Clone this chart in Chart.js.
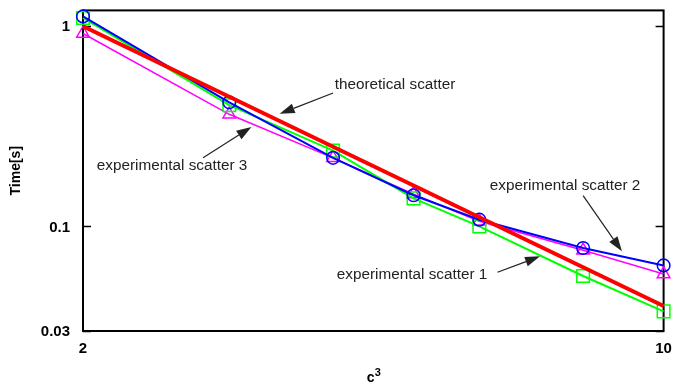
<!DOCTYPE html>
<html>
<head>
<meta charset="utf-8">
<script src="https://cdn.jsdelivr.net/npm/chart.js@4/dist/chart.umd.min.js"></script>
<style>
  html, body { margin: 0; padding: 0; background: #fff; }
  canvas { display: block; }
</style>
</head>
<body>
<canvas id="chart" width="674" height="384"></canvas>
<script>
// Problem size c^3 on the x axis, run time in seconds on the y axis (both log)
const cValues       = [2, 3, 4, 5, 6, 8, 10];
const theoretical   = [1.0, 0.444, 0.25, 0.16, 0.111, 0.0625, 0.04];
const experimental1 = [1.10, 0.403, 0.239, 0.138, 0.100, 0.0565, 0.0376];
const experimental2 = [1.12, 0.417, 0.220, 0.143, 0.108, 0.078, 0.0638];
const experimental3 = [0.92, 0.363, 0.220, 0.145, 0.106, 0.0759, 0.0578];
const xTicks = [2, 10];
const yTicks = [0.03, 0.1, 1];

// Callout labels: text centre and arrow (tail -> head), all in data units
const callouts = [
  { text: 'theoretical scatter',     tx: 4.75, ty: 0.508, fx: 4.00, fy: 0.464, hx: 3.45, hy: 0.365 },
  { text: 'experimental scatter 3',  tx: 2.56, ty: 0.201, fx: 2.79, fy: 0.220, hx: 3.19, hy: 0.314 },
  { text: 'experimental scatter 2',  tx: 7.61, ty: 0.160, fx: 8.00, fy: 0.1425, hx: 8.91, hy: 0.075 },
  { text: 'experimental scatter 1',  tx: 4.98, ty: 0.057, fx: 6.31, fy: 0.059, hx: 7.10, hy: 0.0708 }
];

const pts = ys => cValues.map((c, i) => ({ x: c, y: ys[i] }));
const FONT = "'Liberation Sans', Arial, sans-serif";

function drawArrow(ctx, x0, y0, x1, y1) {
  const ang = Math.atan2(y1 - y0, x1 - x0);
  const len = 15, half = 5;
  const bx = x1 - Math.cos(ang) * len, by = y1 - Math.sin(ang) * len;
  ctx.beginPath();
  ctx.moveTo(x0, y0);
  ctx.lineTo(bx, by);
  ctx.stroke();
  ctx.beginPath();
  ctx.moveTo(x1, y1);
  ctx.lineTo(bx + Math.sin(ang) * half, by - Math.cos(ang) * half);
  ctx.lineTo(bx - Math.sin(ang) * half, by + Math.cos(ang) * half);
  ctx.closePath();
  ctx.fill();
}

const frame = {
  id: 'frame',
  beforeDatasetsDraw(chart) {
    const { ctx, chartArea: a, scales: { y } } = chart;
    ctx.save();
    ctx.strokeStyle = '#000';
    ctx.lineWidth = 2;
    ctx.strokeRect(a.left, a.top, a.right - a.left, a.bottom - a.top);
    ctx.lineWidth = 1.5;
    yTicks.forEach(v => {
      const py = Math.round(y.getPixelForValue(v)) + 0.5;
      ctx.beginPath();
      ctx.moveTo(a.left, py); ctx.lineTo(a.left + 8, py);
      ctx.moveTo(a.right, py); ctx.lineTo(a.right - 8, py);
      ctx.stroke();
    });
    ctx.restore();
  },
  afterDraw(chart) {
    const { ctx, chartArea: a, scales: { x, y } } = chart;
    ctx.save();
    ctx.fillStyle = '#000';
    ctx.font = 'bold 15px ' + FONT;
    // y tick labels
    ctx.textAlign = 'right';
    ctx.textBaseline = 'middle';
    yTicks.forEach(v => ctx.fillText(String(v), a.left - 13, y.getPixelForValue(v) + 1));
    // x tick labels
    ctx.textAlign = 'center';
    xTicks.forEach(v => ctx.fillText(String(v), x.getPixelForValue(v), a.bottom + 18));
    // axis titles
    ctx.font = 'bold 14px ' + FONT;
    ctx.save();
    ctx.translate(16, (a.top + a.bottom) / 2);
    ctx.rotate(-Math.PI / 2);
    ctx.textAlign = 'center';
    ctx.fillText('Time[s]', 0, 0);
    ctx.restore();
    ctx.textAlign = 'left';
    ctx.textBaseline = 'alphabetic';
    const cw = ctx.measureText('c').width;
    ctx.font = 'bold 11px ' + FONT;
    const sw = ctx.measureText('3').width;
    const cx = (a.left + a.right) / 2 + 0.5 - (cw + sw) / 2;
    ctx.font = 'bold 14px ' + FONT;
    ctx.fillText('c', cx, 382);
    ctx.font = 'bold 11px ' + FONT;
    ctx.fillText('3', cx + cw, 376);
    // callouts
    ctx.fillStyle = '#222';
    ctx.strokeStyle = '#222';
    ctx.lineWidth = 1.2;
    ctx.font = '15.3px ' + FONT;
    ctx.textAlign = 'center';
    ctx.textBaseline = 'middle';
    callouts.forEach(c => {
      ctx.fillText(c.text, x.getPixelForValue(c.tx), y.getPixelForValue(c.ty));
      drawArrow(ctx, x.getPixelForValue(c.fx), y.getPixelForValue(c.fy),
                     x.getPixelForValue(c.hx), y.getPixelForValue(c.hy));
    });
    ctx.restore();
  }
};

new Chart(document.getElementById('chart'), {
  type: 'line',
  data: {
    datasets: [
      { label: 'theoretical scatter', data: pts(theoretical), borderColor: '#ff0000',
        borderWidth: 4, pointRadius: 0, clip: false },
      { label: 'experimental scatter 2', data: pts(experimental2), borderColor: '#0000ff',
        borderWidth: 2, pointStyle: 'circle', pointRadius: 6.3, pointBorderWidth: 1.5,
        pointBorderColor: '#0000ff', pointBackgroundColor: 'rgba(0,0,0,0)', clip: false },
      { label: 'experimental scatter 1', data: pts(experimental1), borderColor: '#00ff00',
        borderWidth: 2, pointStyle: 'rect', pointRadius: 8.9, pointBorderWidth: 1.5,
        pointBorderColor: '#00ff00', pointBackgroundColor: 'rgba(0,0,0,0)', clip: false },
      { label: 'experimental scatter 3', data: pts(experimental3), borderColor: '#ff00ff',
        borderWidth: 1.5, pointStyle: 'triangle', pointRadius: 7.3, pointBorderWidth: 1.5,
        pointBorderColor: '#ff00ff', pointBackgroundColor: 'rgba(0,0,0,0)', clip: false }
    ]
  },
  options: {
    responsive: false,
    animation: false,
    events: [],
    layout: { padding: { left: 83, right: 8, top: 9, bottom: 53 } },
    elements: { line: { tension: 0 } },
    plugins: { legend: { display: false }, tooltip: { enabled: false } },
    scales: {
      x: { type: 'logarithmic', min: 2, max: 10, display: false },
      y: { type: 'logarithmic', min: 0.03, max: 1.2, display: false }
    }
  },
  plugins: [frame]
});
</script>
</body>
</html>
